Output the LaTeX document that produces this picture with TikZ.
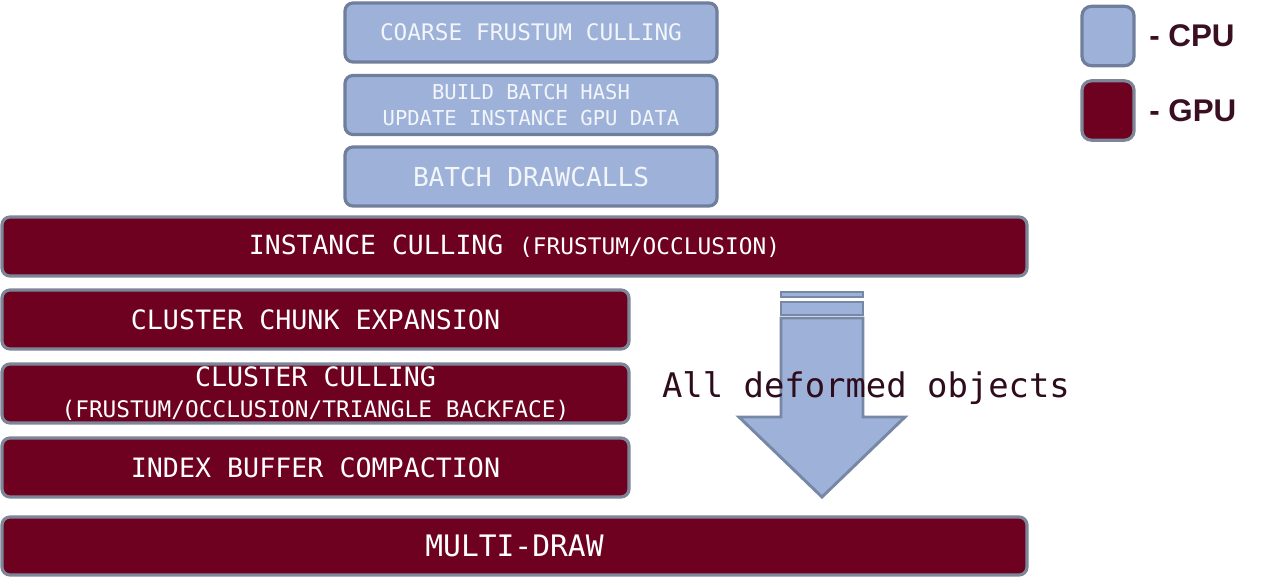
\documentclass[tikz,border=0pt]{standalone}
\usepackage{fontspec}
\setmainfont{Liberation Sans}
\newfontfamily\monof{DejaVu Sans Mono}
\definecolor{cpufill}{HTML}{9EB2D9}
\definecolor{cpuline}{HTML}{6F7E9C}
\definecolor{arrline}{HTML}{7787A6}
\definecolor{gpufill}{HTML}{6E0020}
\definecolor{gpuline}{HTML}{7D8699}
\definecolor{cputext}{HTML}{F2F5FA}
\definecolor{darktext}{HTML}{2E0C1C}
\definecolor{legtext}{HTML}{3A0F22}
\newcommand{\fsz}[2]{\fontsize{#1}{#2}\selectfont}
\begin{document}
\begin{tikzpicture}[x=0.75pt,y=-0.75pt,
  box/.style={rounded corners=6pt, line width=2.4pt, inner sep=0pt, align=center},
  cpubox/.style={box, fill=cpufill, draw=cpuline, text=cputext, minimum width=279pt, minimum height=44.25pt},
  gpubox/.style={box, fill=gpufill, draw=gpuline, text=white, minimum height=44.25pt},
  legbox/.style={rounded corners=7pt, line width=2.4pt, minimum width=39pt, minimum height=44.5pt, inner sep=0pt},
  legtxt/.style={anchor=west, text=legtext, font=\bfseries\fsz{23.5}{26}, inner sep=0pt},
  arrowpart/.style={fill=cpufill, draw=arrline, line width=2.2pt, line join=miter}
]
\useasboundingbox (0,0) rectangle (1261,585);
\fill[white] (0,0) rectangle (1261,585);

% CPU boxes
\node[cpubox, font=\monof\fsz{17.1}{20}] (coarse) at (531,32.5) {COARSE FRUSTUM CULLING};
\node[cpubox, font=\monof\fsz{15.4}{19.5}] (build) at (531,105) {BUILD BATCH HASH\\UPDATE INSTANCE GPU DATA};
\node[cpubox, font=\monof\fsz{19.6}{22}] (batch) at (531,176.5) {BATCH DRAWCALLS};

% GPU boxes
\node[gpubox, minimum width=768.75pt, font=\monof\fsz{19.8}{22}] (inst) at (514.5,246.5) {\raisebox{-1.5pt}{INSTANCE CULLING {\fsz{17.1}{20}(FRUSTUM/OCCLUSION)}}};
\node[gpubox, minimum width=470.25pt, font=\monof\fsz{20}{22}] (chunk) at (315.5,319.5) {\raisebox{-1.5pt}{CLUSTER CHUNK EXPANSION}};
\node[gpubox, minimum width=470.25pt, font=\monof\fsz{17.1}{23.25}] (cull) at (315.5,393.5) {{\fsz{20}{23.25}CLUSTER CULLING}\\(FRUSTUM/OCCLUSION/TRIANGLE BACKFACE)};
\node[gpubox, minimum width=470.25pt, font=\monof\fsz{20}{22}] (index) at (315.5,467.5) {\raisebox{-1.5pt}{INDEX BUFFER COMPACTION}};
\node[gpubox, minimum width=768.75pt, minimum height=43.5pt, font=\monof\fsz{22.2}{24}] (multi) at (514.5,546) {MULTI-DRAW};

% striped arrow
\draw[arrowpart] (781,292) rectangle (863,297);
\draw[arrowpart] (781,302) rectangle (863,315);
\draw[arrowpart] (781,318) -- (863,318) -- (863,417) -- (905,417) -- (822,497) -- (739,417) -- (781,417) -- cycle;
\node[text=darktext, font=\monof\fsz{25.4}{28}, inner sep=0pt] (deformed) at (866,388.5) {All deformed objects};

% legend
\node[legbox, fill=cpufill, draw=cpuline] (legcpu) at (1108,36) {};
\node[legbox, fill=gpufill, draw=gpuline] (leggpu) at (1108,110.5) {};
\node[legtxt] (lcpu) at (1149,36) {- CPU};
\node[legtxt] (lgpu) at (1149,111) {- GPU};
\end{tikzpicture}
\end{document}
